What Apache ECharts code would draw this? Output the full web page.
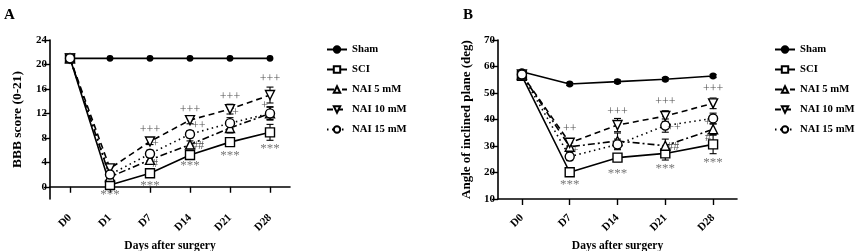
<!DOCTYPE html>
<html>
<head>
<meta charset="utf-8">
<script src="https://cdn.jsdelivr.net/npm/echarts@6/dist/echarts.min.js"></script>
<style>
  html, body { margin: 0; background: #fff; }
  #chart { width: 858px; height: 251px; }
</style>
</head>
<body>
<div id="chart"></div>
<script>
  // groups
  const groupNames = ['Sham', 'SCI', 'NAI 5 mM', 'NAI 10 mM', 'NAI 15 mM'];

  // panel A - BBB score
  const daysA = ['D0', 'D1', 'D7', 'D14', 'D21', 'D28'];
  const bbbTicks = [0, 4, 8, 12, 16, 20, 24];
  const bbbSham  = [21, 21, 21, 21, 21, 21];
  const bbbSCI   = [21, 0.3, 2.2, 5.2, 7.3, 8.9];
  const bbbNAI5  = [21, 1.6, 4.4, 6.9, 9.6, 12.0];
  const bbbNAI10 = [21, 3.0, 7.4, 10.9, 12.7, 15.0];
  const bbbNAI15 = [21, 2.0, 5.4, 8.6, 10.4, 12.0];
  const bbbErrSham  = [0, 0, 0, 0, 0, 0];
  const bbbErrSCI   = [0, 0.3, 0.3, 0.4, 0.6, 1.3];
  const bbbErrNAI5  = [0, 0.4, 0.5, 0.6, 0.8, 1.0];
  const bbbErrNAI10 = [0, 0.5, 0.5, 0.6, 0.8, 1.3];
  const bbbErrNAI15 = [0, 0.5, 0.6, 0.6, 0.9, 1.1];
  // [day, value, text, side]
  const bbbMarks = [
    ['D1', -0.8, '***', 'inside'],
    ['D7', 0.65, '***', 'inside'], ['D7', 9.3, '+++', 'inside'], ['D7', 7.0, '+', 'right'], ['D7', 3.75, '#', 'right'],
    ['D14', 3.9, '***', 'inside'], ['D14', 12.6, '+++', 'inside'], ['D14', 10.0, '++', 'right'], ['D14', 6.7, '##', 'right'],
    ['D21', 5.55, '***', 'inside'], ['D21', 14.7, '+++', 'inside'], ['D21', 12.1, '+', 'right'],
    ['D28', 6.7, '***', 'inside'], ['D28', 17.6, '+++', 'inside'], ['D28', 13.2, '+', 'left']
  ];

  // panel B - inclined plane
  const daysB = ['D0', 'D7', 'D14', 'D21', 'D28'];
  const angSham  = [58.0, 53.4, 54.3, 55.2, 56.4];
  const angSCI   = [56.5, 20.1, 25.6, 27.2, 30.6];
  const angNAI5  = [57.0, 29.7, 31.9, 30.1, 36.3];
  const angNAI10 = [57.0, 31.2, 37.9, 41.3, 46.1];
  const angNAI15 = [57.0, 26.0, 30.6, 37.7, 40.4];
  const angErrSham  = [0.5, 0.6, 0.6, 0.6, 0.6];
  const angErrSCI   = [0.5, 0.8, 1.5, 2.5, 3.5];
  const angErrNAI5  = [0.5, 1.5, 3.0, 2.5, 2.0];
  const angErrNAI10 = [0.5, 1.2, 2.5, 2.0, 2.0];
  const angErrNAI15 = [0.5, 1.5, 2.0, 2.5, 2.0];
  const angMarks = [
    ['D7', 16.4, '***', 'inside'], ['D7', 36.4, '++', 'inside'], ['D7', 28.1, '+', 'right'],
    ['D14', 20.9, '***', 'inside'], ['D14', 42.8, '+++', 'inside'],
    ['D21', 22.5, '***', 'inside'], ['D21', 46.6, '+++', 'inside'], ['D21', 36.8, '++', 'right'], ['D21', 29.6, '##', 'right'],
    ['D28', 24.7, '***', 'inside'], ['D28', 51.5, '+++', 'inside'], ['D28', 38.7, '+', 'left'], ['D28', 33.0, '#', 'left']
  ];

  const FONT = 'Liberation Serif';
  const downTri = 'path://M0,0L10,0L5,9Z';
  const looks = [
    { symbol: 'circle', size: 5.5, fill: '#000', dash: 'solid' },
    { symbol: 'rect', size: 9, fill: '#fff', dash: 'solid' },
    { symbol: 'triangle', size: 9, fill: '#fff', dash: [7, 3, 2, 3] },
    { symbol: downTri, size: 9, fill: '#fff', dash: [6, 4] },
    { symbol: 'circle', size: 9, fill: '#fff', dash: [1.5, 3.5] }
  ];

  function lineSeries(idx, values, axis) {
    const lk = looks[idx];
    return {
      name: groupNames[idx], type: 'line',
      xAxisIndex: axis, yAxisIndex: axis,
      data: values,
      symbol: lk.symbol, symbolSize: lk.size,
      lineStyle: { color: '#000', width: 1.6, type: lk.dash },
      itemStyle: { color: lk.fill, borderColor: '#000', borderWidth: 1.4 },
      z: 3 + (idx === 0 ? 0 : 1)
    };
  }

  function errSeries(means, errs, axis) {
    const data = [];
    means.forEach((list, g) => list.forEach((m, i) => {
      if (errs[g][i] > 0) data.push([i, m, errs[g][i]]);
    }));
    return {
      type: 'custom', xAxisIndex: axis, yAxisIndex: axis, z: 2,
      silent: true,
      data: data,
      renderItem: function (params, api) {
        const i = api.value(0), m = api.value(1), e = api.value(2);
        const top = api.coord([i, m + e]);
        const bot = api.coord([i, m - e]);
        const st = { stroke: '#000', lineWidth: 1.1 };
        return {
          type: 'group',
          children: [
            { type: 'line', shape: { x1: top[0], y1: top[1], x2: bot[0], y2: bot[1] }, style: st },
            { type: 'line', shape: { x1: top[0] - 3.5, y1: top[1], x2: top[0] + 3.5, y2: top[1] }, style: st },
            { type: 'line', shape: { x1: bot[0] - 3.5, y1: bot[1], x2: bot[0] + 3.5, y2: bot[1] }, style: st }
          ]
        };
      }
    };
  }

  function markSeries(marks, axis) {
    return {
      type: 'scatter', xAxisIndex: axis, yAxisIndex: axis, z: 6,
      silent: true, symbolSize: 0,
      data: marks.map(m => {
        const stars = m[2].charAt(0) === '*';
        return {
          value: [m[0], m[1]],
          label: {
            show: true, formatter: m[2], position: m[3], distance: 2,
            color: stars ? '#555' : '#222',
            fontSize: stars ? 13 : 12,
            offset: stars ? [0, 3] : [0, 0]
          }
        };
      }),
      label: { fontFamily: FONT }
    };
  }

  const tickLabel = { color: '#000', fontFamily: FONT, fontWeight: 'bold', fontSize: 11 };
  const axisName = { color: '#000', fontFamily: FONT, fontWeight: 'bold', fontSize: 11.5 };
  const axisLine = { show: true, lineStyle: { color: '#000', width: 1.6 } };
  const axisTick = { show: true, length: 6, lineStyle: { color: '#000', width: 1.4 } };

  function xAxis(days, grid) {
    return {
      type: 'category', gridIndex: grid, data: days, boundaryGap: true,
      axisLine: axisLine,
      axisTick: Object.assign({ alignWithLabel: true }, axisTick),
      axisLabel: Object.assign({ rotate: 45, margin: 17, interval: 0 }, tickLabel),
      name: 'Days after surgery', nameLocation: 'middle', nameGap: 41,
      nameTextStyle: axisName
    };
  }

  const legendBase = {
    orient: 'vertical', itemWidth: 20, itemHeight: 8, itemGap: 9,
    textStyle: { color: '#000', fontFamily: FONT, fontWeight: 'bold', fontSize: 10.7 },
    data: groupNames
  };
  const titleStyle = { fontFamily: FONT, fontWeight: 'bold', fontSize: 15, color: '#000' };

  const chart = echarts.init(document.getElementById('chart'));
  chart.setOption({
    animation: false,
    title: [
      { text: 'A', left: -1, top: 3, textStyle: titleStyle },
      { text: 'B', left: 458, top: 3, textStyle: titleStyle }
    ],
    legend: [
      Object.assign({ left: 321, top: 39 }, legendBase),
      Object.assign({ left: 769, top: 39 }, legendBase)
    ],
    grid: [
      { left: 50, top: 40, width: 240, height: 159, outerBoundsMode: 'none', containLabel: false },
      { left: 498, top: 40, width: 239, height: 159, outerBoundsMode: 'none', containLabel: false }
    ],
    xAxis: [xAxis(daysA, 0), xAxis(daysB, 1)],
    yAxis: [
      {
        type: 'value', gridIndex: 0, min: -2, max: 24,
        splitLine: { show: false },
        axisLine: axisLine,
        axisTick: Object.assign({ customValues: bbbTicks }, axisTick),
        axisLabel: Object.assign({ customValues: bbbTicks, margin: 3 }, tickLabel),
        name: 'BBB score (0-21)', nameLocation: 'middle', nameGap: 25,
        nameTextStyle: Object.assign({}, axisName, { fontSize: 13.5 })
      },
      {
        type: 'value', gridIndex: 1, min: 10, max: 70, interval: 10,
        splitLine: { show: false },
        axisLine: axisLine, axisTick: axisTick,
        axisLabel: Object.assign({ margin: 3 }, tickLabel),
        name: 'Angle of inclined plane (deg)', nameLocation: 'middle', nameGap: 25,
        nameTextStyle: Object.assign({}, axisName, { fontSize: 13 })
      }
    ],
    series: [
      lineSeries(0, bbbSham, 0), lineSeries(1, bbbSCI, 0), lineSeries(2, bbbNAI5, 0),
      lineSeries(3, bbbNAI10, 0), lineSeries(4, bbbNAI15, 0),
      errSeries([bbbSham, bbbSCI, bbbNAI5, bbbNAI10, bbbNAI15],
                [bbbErrSham, bbbErrSCI, bbbErrNAI5, bbbErrNAI10, bbbErrNAI15], 0),
      markSeries(bbbMarks, 0),
      lineSeries(0, angSham, 1), lineSeries(1, angSCI, 1), lineSeries(2, angNAI5, 1),
      lineSeries(3, angNAI10, 1), lineSeries(4, angNAI15, 1),
      errSeries([angSham, angSCI, angNAI5, angNAI10, angNAI15],
                [angErrSham, angErrSCI, angErrNAI5, angErrNAI10, angErrNAI15], 1),
      markSeries(angMarks, 1)
    ]
  });
</script>
</body>
</html>
